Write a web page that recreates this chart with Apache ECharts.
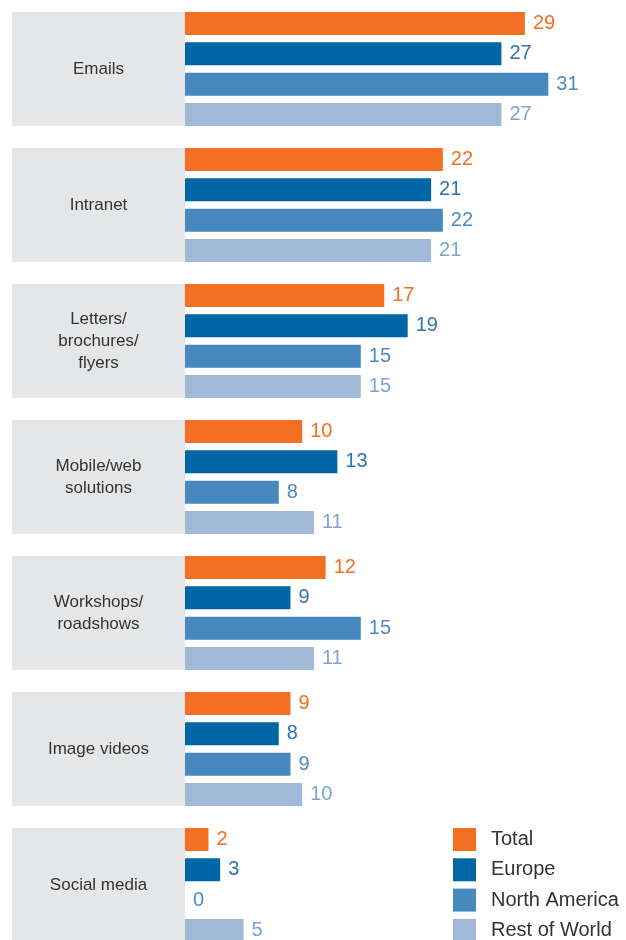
<!DOCTYPE html>
<html>
<head>
<meta charset="utf-8">
<script src="https://cdn.jsdelivr.net/npm/echarts@6/dist/echarts.min.js"></script>
<style>
html,body{margin:0;padding:0;background:#fff;}
#chart{width:626px;height:940px;}
</style>
</head>
<body>
<div id="chart"></div>
<script>
var categories = ['Emails', 'Intranet', 'Letters/\nbrochures/\nflyers', 'Mobile/web\nsolutions', 'Workshops/\nroadshows', 'Image videos', 'Social media'];
var seriesNames = ['Total', 'Europe', 'North America', 'Rest of World'];
var totalValues = [29, 22, 17, 10, 12, 9, 2];
var europeValues = [27, 21, 19, 13, 9, 8, 3];
var northAmericaValues = [31, 22, 15, 8, 15, 9, 0];
var restOfWorldValues = [27, 21, 15, 11, 11, 10, 5];

var barColors = ['#F36F21', '#0066A6', '#4789BF', '#A0B9D9'];
var labelColors = ['#F36F21', '#2E74AD', '#4B8BC1', '#7FA3CF'];
var valueSets = [totalValues, europeValues, northAmericaValues, restOfWorldValues];
var FONT = "'Liberation Sans', Arial, Helvetica, sans-serif";

var chart = echarts.init(document.getElementById('chart'), null, {renderer: 'canvas'});

var barWidth = 23;
var barGapPx = 7.3;

var barSeries = seriesNames.map(function (name, k) {
  return {
    name: name,
    type: 'bar',
    data: valueSets[k],
    barWidth: barWidth,
    barGap: (barGapPx / barWidth * 100) + '%',
    itemStyle: {color: barColors[k]},
    label: {
      show: true,
      position: 'right',
      distance: 8,
      fontSize: 20,
      fontFamily: FONT,
      color: labelColors[k]
    },
    z: 3
  };
});

var groupHeight = 4 * barWidth + 3 * barGapPx;

var bgSeries = {
  type: 'custom',
  name: 'bg',
  silent: true,
  z: 1,
  data: categories.map(function (c, i) { return [0, i]; }),
  encode: {x: 0, y: 1},
  renderItem: function (params, api) {
    var p = api.coord([0, api.value(1)]);
    return {
      type: 'rect',
      shape: {x: 12, y: p[1] - groupHeight / 2, width: p[0] - 12, height: groupHeight},
      style: {fill: '#E5E6E8'}
    };
  }
};

chart.setOption({
  animation: false,
  backgroundColor: '#ffffff',
  textStyle: {fontFamily: FONT},
  grid: {left: 185, top: 1, height: 952, width: 36 * 11.72, containLabel: false, outerBoundsMode: 'none'},
  xAxis: {type: 'value', min: 0, max: 36, show: false},
  yAxis: {
    type: 'category',
    data: categories,
    inverse: true,
    z: 10,
    axisLine: {show: false},
    axisTick: {show: false},
    splitLine: {show: false},
    axisLabel: {
      align: 'center',
      margin: 86.5,
      fontSize: 17,
      lineHeight: 22,
      color: '#333333',
      fontFamily: FONT
    }
  },
  legend: {
    data: seriesNames,
    orient: 'vertical',
    left: 453,
    top: 828,
    height: 140,
    padding: 0,
    itemWidth: 23,
    itemHeight: 23,
    itemGap: 7.3,
    icon: 'rect',
    textStyle: {fontSize: 20, color: '#333333', fontFamily: FONT, padding: [0, 0, 0, 10]}
  },
  series: [bgSeries].concat(barSeries)
});
</script>
</body>
</html>
